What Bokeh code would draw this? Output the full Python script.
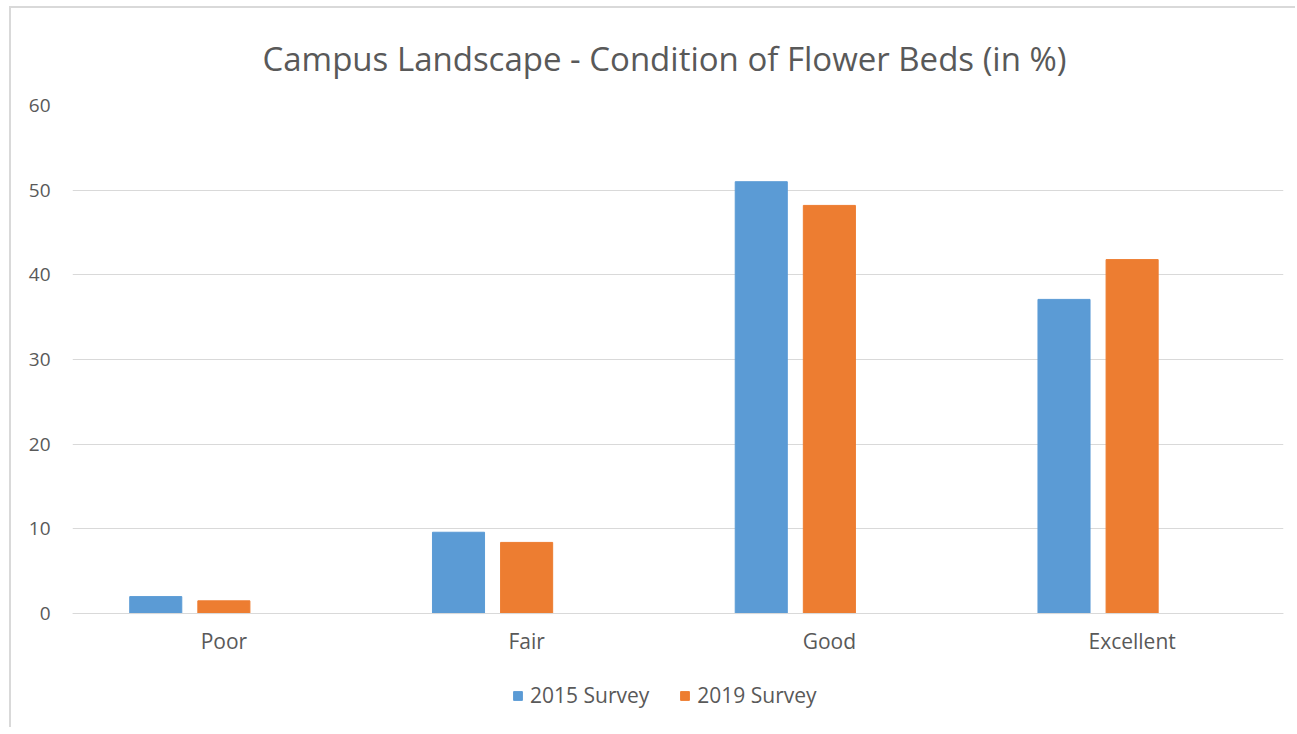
from bokeh.plotting import figure
from bokeh.models import ColumnDataSource, Legend, LegendItem, Title, FactorRange
from bokeh.transform import dodge
from bokeh.embed import file_html
from bokeh.resources import INLINE

categories = ["Poor", "Fair", "Good", "Excellent"]
survey_2015 = [2.0, 9.6, 51.0, 37.1]
survey_2019 = [1.5, 8.4, 48.2, 41.8]
series_names = ["2015 Survey", "2019 Survey"]
y_ticks = [0, 10, 20, 30, 40, 50, 60]

FONT = "Open Sans"
TXT = "#595959"
GRID = "#d9d9d9"

src = ColumnDataSource(dict(cat=categories, s2015=survey_2015, s2019=survey_2019))

# frame extends below zero so the legend can sit inside it; 0 -> 508 px below the 60 line
p = figure(x_range=FactorRange(*categories, range_padding=0), y_range=(-13.46, 60),
           frame_width=1211, frame_height=622, output_backend="svg", toolbar_location=None,
           min_border_left=61, min_border_right=12, min_border_top=96, min_border_bottom=0)
p.styles = {"margin-left": "9px", "margin-top": "6px",
            "border-left": "2px solid #d9d9d9", "border-top": "2px solid #d9d9d9"}

r1 = p.vbar(x=dodge("cat", -0.225, range=p.x_range), top="s2015", width=0.172, source=src,
            fill_color="#5B9BD5", line_color="#5B9BD5")
r2 = p.vbar(x=dodge("cat", 0.0, range=p.x_range), top="s2019", width=0.172, source=src,
            fill_color="#ED7D31", line_color="#ED7D31")

t = Title(text="Campus Landscape -  Condition of Flower Beds (in %)", align="left",
          text_font=FONT, text_font_size="33px", text_font_style="normal",
          text_color=TXT, standoff=50, offset=190, text_line_height=0.9)
p.add_layout(t, "above")

p.outline_line_color = None
p.xgrid.grid_line_color = None
p.ygrid.grid_line_color = GRID
p.ygrid.grid_line_width = 1
p.yaxis.ticker = y_ticks
p.yaxis.axis_line_color = None
p.yaxis.major_tick_line_color = None
p.yaxis.minor_tick_line_color = None
p.yaxis.major_label_standoff = 16
p.yaxis.major_label_text_font = FONT
p.yaxis.major_label_text_font_size = "19px"
p.yaxis.major_label_text_color = TXT

p.xaxis.fixed_location = 0
p.xaxis.axis_line_color = GRID
p.xaxis.major_tick_line_color = None
p.xaxis.minor_tick_line_color = None
p.xaxis.major_label_standoff = 7
p.xaxis.major_label_text_font = FONT
p.xaxis.major_label_text_font_size = "21px"
p.xaxis.major_label_text_color = TXT

legend = Legend(items=[LegendItem(label=series_names[0], renderers=[r1]),
                       LegendItem(label=series_names[1], renderers=[r2])],
                orientation="horizontal", location=(440, 18), nrows=1,
                label_text_font=FONT, label_text_font_size="21px", label_text_color=TXT,
                glyph_width=11, glyph_height=11, spacing=30, label_standoff=7,
                border_line_color=None, background_fill_alpha=0, margin=0, padding=4)
p.add_layout(legend, "center")

open("out.html", "w").write(file_html(p, INLINE))
